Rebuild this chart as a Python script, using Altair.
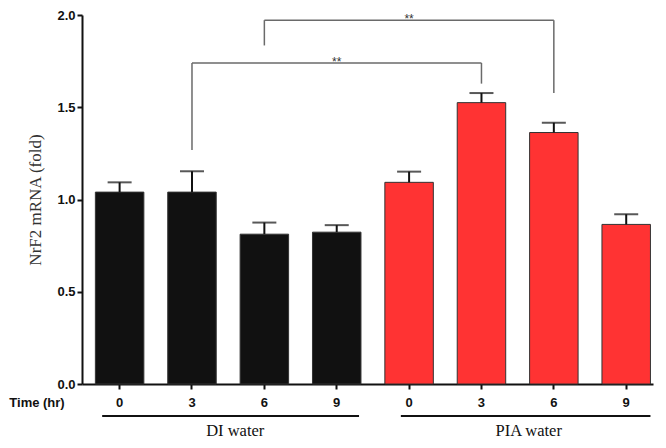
import altair as alt
import pandas as pd

groups = ["DI water"] * 4 + ["PIA water"] * 4
times = ["0", "3", "6", "9", "0", "3", "6", "9"]
means = [1.04, 1.04, 0.812, 0.823, 1.093, 1.525, 1.363, 0.865]
errs = [0.053, 0.113, 0.063, 0.038, 0.058, 0.052, 0.053, 0.055]

keys = [("DI" if g == "DI water" else "PIA") + "-" + t for g, t in zip(groups, times)]
df = pd.DataFrame({"key": keys, "group": groups, "time": times, "mean": means,
                   "top": [m + e for m, e in zip(means, errs)]})

# significance brackets
br_x = ["DI-3", "PIA-3", "DI-6", "PIA-6"]
br_y1 = [1.268, 1.628, 1.835, 1.577]
br_y2 = [1.74, 1.74, 1.972, 1.972]
h_x1 = ["DI-3", "DI-6"]
h_x2 = ["PIA-3", "PIA-6"]
h_y = [1.74, 1.972]
star_x = ["DI-9", "PIA-0"]
star_y = [1.74, 1.972]
star_txt = ["**", "**"]

xscale = alt.Scale(domain=keys, paddingInner=0.33, paddingOuter=0.11, align=0.84)
yscale = alt.Scale(domain=[0, 2])

X = alt.X("key:N", scale=xscale, sort=keys,
          axis=alt.Axis(title=None, labelExpr="split(datum.label, '-')[1]",
                        labelAngle=0, labelFont="Liberation Sans", labelFontWeight="bold",
                        labelFontSize=13, labelColor="#111", labelPadding=7,
                        tickSize=5, tickWidth=2, tickColor="#111",
                        domainColor="#111", domainWidth=2))
Y = alt.Y("mean:Q", scale=yscale,
          axis=alt.Axis(title="NrF2 mRNA (fold)", values=[0, 0.5, 1.0, 1.5, 2.0], format=".1f",
                        labelFont="Liberation Sans", labelFontWeight="bold", labelFontSize=13,
                        labelColor="#111", labelPadding=2, tickSize=5, tickWidth=2,
                        tickColor="#111", domainColor="#111", domainWidth=2,
                        titleFont="Liberation Serif", titleFontWeight="normal",
                        titleFontSize=17, titleColor="#333", titlePadding=12, grid=False))

base = alt.Chart(df)
bars = base.mark_bar(stroke="#333", strokeWidth=1).encode(
    x=X, y=Y,
    color=alt.Color("group:N", scale=alt.Scale(domain=["DI water", "PIA water"],
                                               range=["#111111", "#FF3333"]), legend=None))
err_rule = base.mark_rule(color="#111", strokeWidth=2).encode(
    x=alt.X("key:N", scale=xscale, sort=keys), y=alt.Y("mean:Q", scale=yscale), y2="top:Q")
caps = base.mark_tick(color="#111", thickness=2, size=24, orient="horizontal").encode(
    x=alt.X("key:N", scale=xscale, sort=keys), y=alt.Y("top:Q", scale=yscale))

vdf = pd.DataFrame({"key": br_x, "y1": br_y1, "y2": br_y2})
vrules = alt.Chart(vdf).mark_rule(color="#6a6a6a", strokeWidth=1.5).encode(
    x=alt.X("key:N", scale=xscale, sort=keys), y=alt.Y("y1:Q", scale=yscale), y2="y2:Q")
hdf = pd.DataFrame({"x1": h_x1, "x2": h_x2, "y": h_y})
hrules = alt.Chart(hdf).mark_rule(color="#6a6a6a", strokeWidth=1.5).encode(
    x=alt.X("x1:N", scale=xscale, sort=keys), x2="x2:N", y=alt.Y("y:Q", scale=yscale))
sdf = pd.DataFrame({"key": star_x, "y": star_y, "t": star_txt})
stars = alt.Chart(sdf).mark_text(font="Liberation Sans", fontSize=12, color="#333",
                                 baseline="alphabetic", dy=3).encode(
    x=alt.X("key:N", scale=xscale, sort=keys), y=alt.Y("y:Q", scale=yscale), text="t:N")

# group annotations under axis
gl_x1 = ["DI-0", "PIA-0"]
gl_x2 = ["DI-9", "PIA-9"]
gdf1 = pd.DataFrame({"x1": [gl_x1[0]], "x2": [gl_x2[0]]})
gdf2 = pd.DataFrame({"x1": [gl_x1[1]], "x2": [gl_x2[1]]})
gline1 = alt.Chart(gdf1).mark_rule(color="#111", strokeWidth=2).encode(
    x=alt.X("x1:N", scale=xscale, sort=keys, bandPosition=0.14),
    x2=alt.X2("x2:N", bandPosition=0.96), y=alt.value(401))
gline2 = alt.Chart(gdf2).mark_rule(color="#111", strokeWidth=2).encode(
    x=alt.X("x1:N", scale=xscale, sort=keys, bandPosition=0.33),
    x2=alt.X2("x2:N", bandPosition=1.0), y=alt.value(401))

group_names = ["DI water", "PIA water"]
group_anchor = ["DI-3", "PIA-3"]
gt1 = alt.Chart(pd.DataFrame({"key": [group_anchor[0]], "t": [group_names[0]]})).mark_text(
    font="Liberation Serif", fontSize=16.5, color="#111", baseline="alphabetic", dx=19).encode(
    x=alt.X("key:N", scale=xscale, sort=keys, bandPosition=1), y=alt.value(421), text="t:N")
gt2 = alt.Chart(pd.DataFrame({"key": [group_anchor[1]], "t": [group_names[1]]})).mark_text(
    font="Liberation Serif", fontSize=16.5, color="#111", baseline="alphabetic", dx=23).encode(
    x=alt.X("key:N", scale=xscale, sort=keys, bandPosition=1), y=alt.value(421), text="t:N")

time_lbl = alt.Chart(pd.DataFrame({"t": ["Time (hr)"]})).mark_text(
    font="Liberation Sans", fontWeight="bold", fontSize=13, color="#111",
    baseline="middle", align="center").encode(
    x=alt.value(-45), y=alt.value(388), text="t:N")

chart = alt.layer(bars, err_rule, caps, vrules, hrules, stars, gline1, gline2, gt1, gt2, time_lbl).properties(
    width=571, height=369,
    autosize=alt.AutoSizeParams(type="none"),
    padding={"left": 74, "top": 7, "right": 5, "bottom": 56},
).configure_view(stroke=None).configure_axis(grid=False)

chart.save("out.html", embed_options={"renderer": "svg", "actions": False})
